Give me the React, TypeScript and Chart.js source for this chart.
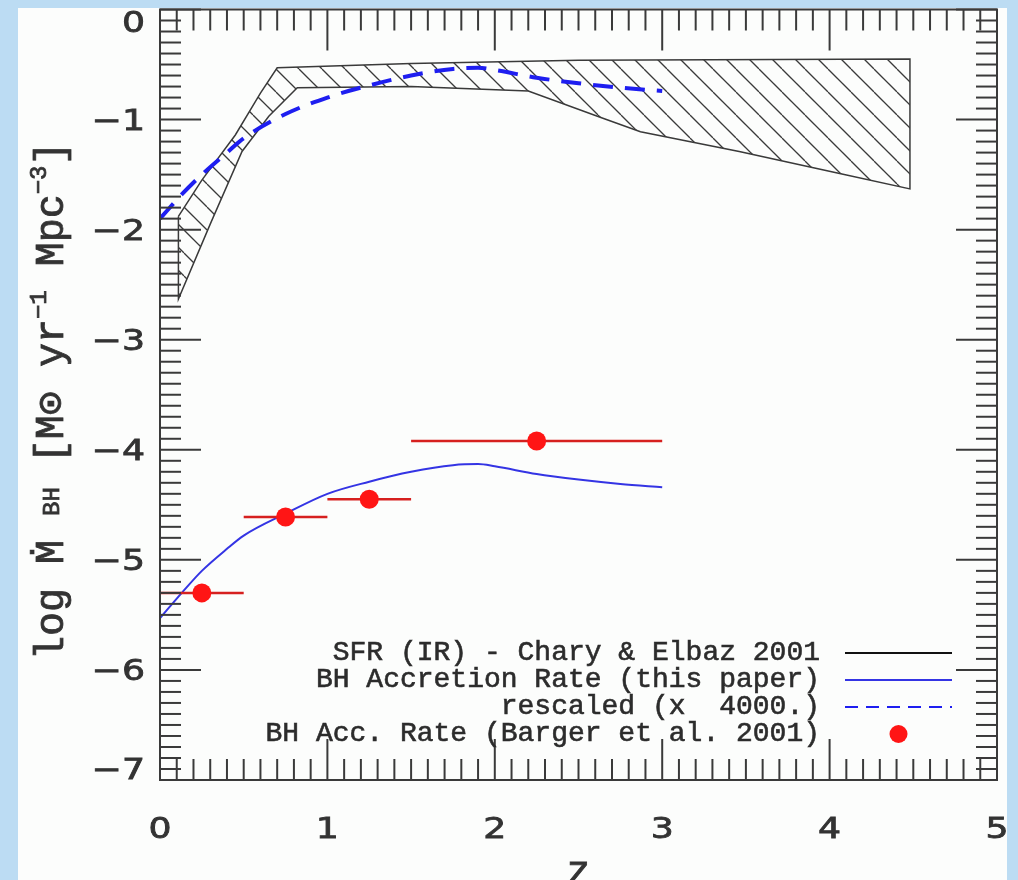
import { useEffect, useRef } from "react";
import { Chart, registerables } from "chart.js";

Chart.register(...registerables);

// Star-formation-rate band (Chary & Elbaz 2001): upper edge left→right, then lower edge right→left
const sfrUpperZ = [0.11, 0.25, 0.45, 0.6, 0.7, 1.5, 2.5, 4.48];
const sfrUpperLog = [-1.88, -1.55, -1.14, -0.76, -0.53, -0.49, -0.46, -0.45];
const sfrLowerZ = [4.48, 4.06, 3.46, 2.87, 2.65, 2.2, 1.5, 0.82, 0.65, 0.49, 0.3, 0.11];
const sfrLowerLog = [-1.63, -1.49, -1.29, -1.11, -0.99, -0.74, -0.7, -0.71, -0.97, -1.29, -1.95, -2.63];

// Model BH accretion rate and its copy rescaled by a factor 4000
const modelZ = [0, 0.13, 0.25, 0.4, 0.5, 0.75, 1.0, 1.25, 1.5, 1.75, 1.9, 2.0, 2.25, 2.5, 2.75, 3.0];
const bhRate = [-5.53, -5.3, -5.1, -4.9, -4.78, -4.58, -4.4, -4.29, -4.2, -4.14, -4.13, -4.15, -4.22, -4.27, -4.31, -4.34];
const bhRescaled = [-1.9, -1.68, -1.5, -1.3, -1.17, -0.95, -0.8, -0.69, -0.6, -0.54, -0.53, -0.55, -0.62, -0.67, -0.71, -0.74];

// Barger et al. 2001 measurements with redshift bins
const bargerZ = [0.25, 0.75, 1.25, 2.25];
const bargerLog = [-5.3, -4.61, -4.45, -3.92];
const bargerZLo = [0, 0.5, 1.0, 1.5];
const bargerZHi = [0.5, 1.0, 1.5, 3.0];

const legendLabels = [
  "SFR (IR) - Chary & Elbaz 2001",
  "BH Accretion Rate (this paper)",
  "rescaled (x  4000.)",
  "BH Acc. Rate (Barger et al. 2001)",
];
const xTitle = "z";

const INK = "#333333";
const BLUE_SOLID = "#3434e4";
const BLUE_DASH = "#1e1ef0";
const RED = "#ff1515";
const RED_BAR = "#d6201f";
const MONO = '"Liberation Mono", "DejaVu Sans Mono", monospace';
const SANS = '"DejaVu Sans", sans-serif';

function hatchPattern(ctx: CanvasRenderingContext2D): CanvasPattern | string {
  const s = 23;
  const c = document.createElement("canvas");
  c.width = s;
  c.height = s;
  const g = c.getContext("2d");
  if (!g) return "transparent";
  g.strokeStyle = "#3a3a3a";
  g.lineWidth = 1.3;
  for (const k of [-1, 0, 1]) {
    g.beginPath();
    g.moveTo(k * s, 0);
    g.lineTo(k * s + s, s);
    g.stroke();
  }
  return ctx.createPattern(c, "repeat") || "transparent";
}

// fill plus a thin outline, to give the heavier look of the plot lettering
function inkText(ctx: CanvasRenderingContext2D, t: string, x: number, y: number, w: number) {
  ctx.fillText(t, x, y);
  ctx.lineWidth = w;
  ctx.strokeText(t, x, y);
}

const decorPlugin = {
  id: "decor",
  afterDatasetsDraw(chart: any) {
    const { ctx, chartArea: a, scales } = chart;
    const xs = scales.x;
    const ys = scales.y;
    const MAJOR = 41;
    const MINOR = 21;
    ctx.save();
    ctx.strokeStyle = "#3a3a3a";
    ctx.lineWidth = 2;
    const seg = (x1: number, y1: number, x2: number, y2: number) => {
      ctx.beginPath();
      ctx.moveTo(x1, y1);
      ctx.lineTo(x2, y2);
      ctx.stroke();
    };
    // ten minor divisions per major tick, on all four sides, pointing inward
    const xt = xs.ticks.map((t: any) => t.value);
    for (let i = 0; i < xt.length; i++) {
      for (let m = 0; m < 10; m++) {
        if (i === xt.length - 1 && m > 0) break;
        const v = xt[i] + (m * (xt[1] - xt[0])) / 10;
        const px = xs.getPixelForValue(v);
        const len = m === 0 ? MAJOR : MINOR;
        seg(px, a.bottom, px, a.bottom - len);
        seg(px, a.top, px, a.top + len);
      }
    }
    const yt = ys.ticks.map((t: any) => t.value);
    for (let i = 0; i < yt.length; i++) {
      for (let m = 0; m < 10; m++) {
        if (i === yt.length - 1 && m > 0) break;
        const v = yt[i] + (m * (yt[1] - yt[0])) / 10;
        const py = ys.getPixelForValue(v);
        const len = m === 0 ? MAJOR : MINOR;
        seg(a.left, py, a.left + len, py);
        seg(a.right, py, a.right - len, py);
      }
    }
    ctx.strokeRect(a.left, a.top, a.right - a.left, a.bottom - a.top);

    // tick labels (wide digits)
    const fs = 29;
    const sx = 1.25;
    ctx.fillStyle = INK;
    ctx.strokeStyle = INK;
    ctx.font = `${fs}px ${SANS}`;
    ctx.textBaseline = "alphabetic";
    const digitH = 0.729 * fs;
    const drawScaled = (text: string, x: number, baseline: number, align: "left" | "center" | "right") => {
      const w = ctx.measureText(text).width * sx;
      let left = x;
      if (align === "center") left = x - w / 2;
      if (align === "right") left = x - w;
      ctx.save();
      ctx.translate(left, baseline);
      ctx.scale(sx, 1);
      ctx.textAlign = "left";
      inkText(ctx, text, 0, 0, 0.8);
      ctx.restore();
    };
    for (const t of xs.ticks) {
      const px = xs.getPixelForValue(t.value);
      drawScaled(String(t.value), px, a.bottom + 37 + digitH / 2 + 10, "center");
    }
    for (const t of ys.ticks) {
      let py = ys.getPixelForValue(t.value);
      py = Math.min(Math.max(py, a.top + digitH / 2 + 1), a.bottom - digitH / 2 - 1);
      const txt = t.value < 0 ? "\u2212" + Math.abs(t.value) : String(t.value);
      drawScaled(txt, a.left - 15, py + digitH / 2, "right");
    }

    // x-axis title
    ctx.font = `40px ${MONO}`;
    ctx.textAlign = "center";
    inkText(ctx, xTitle, (a.left + a.right) / 2, a.bottom + 104, 0.8);

    // y-axis title with subscript and superscripts
    const parts = [
      { t: "log \u1E40 ", s: 40, dy: 0 },
      { t: "BH", s: 24, dy: -4 },
      { t: " [M\u2299 yr", s: 40, dy: 0 },
      { t: "\u22121", s: 24, dy: -17 },
      { t: " Mpc", s: 40, dy: 0 },
      { t: "\u22123", s: 24, dy: -17 },
      { t: "]", s: 40, dy: 0 },
    ];
    let total = 0;
    for (const p of parts) {
      ctx.font = `${p.s}px ${MONO}`;
      total += ctx.measureText(p.t).width;
    }
    ctx.save();
    ctx.translate(a.left - 97, (a.top + a.bottom) / 2 + 6);
    ctx.rotate(-Math.PI / 2);
    ctx.textAlign = "left";
    let cx = -total / 2;
    for (const p of parts) {
      ctx.font = `${p.s}px ${MONO}`;
      inkText(ctx, p.t, cx, p.dy, 0.8);
      cx += ctx.measureText(p.t).width;
    }
    ctx.restore();

    // legend
    const textRight = a.right - 177;
    const lineL = a.right - 152;
    const lineR = a.right - 45;
    const base0 = a.bottom - 120;
    const step = 27;
    ctx.font = `28px ${MONO}`;
    ctx.textAlign = "right";
    ctx.fillStyle = "#2c2c2c";
    ctx.strokeStyle = "#2c2c2c";
    legendLabels.forEach((lab, i) => {
      inkText(ctx, lab, textRight, base0 + i * step, 0.6);
    });
    const sampleY = (i: number) => base0 + i * step - 7;
    ctx.lineWidth = 2;
    ctx.strokeStyle = "#111111";
    seg(lineL, sampleY(0), lineR, sampleY(0));
    ctx.strokeStyle = BLUE_SOLID;
    ctx.lineWidth = 2.2;
    seg(lineL, sampleY(1), lineR, sampleY(1));
    ctx.strokeStyle = BLUE_DASH;
    ctx.lineWidth = 2;
    ctx.setLineDash([13, 8]);
    seg(lineL, sampleY(2), lineR, sampleY(2));
    ctx.setLineDash([]);
    ctx.fillStyle = RED;
    ctx.beginPath();
    ctx.arc((lineL + lineR) / 2, sampleY(3), 9, 0, Math.PI * 2);
    ctx.fill();
    ctx.restore();
  },
};

export default function App() {
  const ref = useRef<HTMLCanvasElement | null>(null);

  useEffect(() => {
    const canvas = ref.current;
    if (!canvas) return;
    const ctx = canvas.getContext("2d");
    if (!ctx) return;

    const band = [
      ...sfrUpperZ.map((z, i) => ({ x: z, y: sfrUpperLog[i] })),
      ...sfrLowerZ.map((z, i) => ({ x: z, y: sfrLowerLog[i] })),
      { x: sfrUpperZ[0], y: sfrUpperLog[0] },
    ];
    const bars: { x: number; y: number | null }[] = [];
    bargerZ.forEach((_, i) => {
      bars.push({ x: bargerZLo[i], y: bargerLog[i] });
      bars.push({ x: bargerZHi[i], y: bargerLog[i] });
      bars.push({ x: bargerZHi[i], y: null });
    });

    const chart = new Chart(ctx, {
      type: "line",
      data: {
        datasets: [
          {
            label: legendLabels[3],
            data: bargerZ.map((z, i) => ({ x: z, y: bargerLog[i] })),
            showLine: false,
            pointRadius: 9.5,
            pointBackgroundColor: RED,
            pointBorderWidth: 0,
            order: 0,
          },
          {
            label: "bins",
            data: bars as any,
            borderColor: RED_BAR,
            borderWidth: 2.5,
            pointRadius: 0,
            spanGaps: false,
            order: 1,
          },
          {
            label: legendLabels[1],
            data: modelZ.map((z, i) => ({ x: z, y: bhRate[i] })),
            borderColor: BLUE_SOLID,
            borderWidth: 2,
            pointRadius: 0,
            cubicInterpolationMode: "monotone",
            order: 2,
          },
          {
            label: legendLabels[2],
            data: modelZ.map((z, i) => ({ x: z, y: bhRescaled[i] })),
            borderColor: BLUE_DASH,
            borderWidth: 4,
            borderDash: [20, 12],
            pointRadius: 0,
            cubicInterpolationMode: "monotone",
            order: 3,
          },
          {
            label: legendLabels[0],
            data: band,
            borderColor: "#3a3a3a",
            borderWidth: 1.5,
            backgroundColor: hatchPattern(ctx) as any,
            fill: "shape",
            pointRadius: 0,
            tension: 0,
            order: 4,
          },
        ],
      },
      options: {
        responsive: false,
        animation: false,
        devicePixelRatio: 1,
        layout: { padding: { left: 0, top: 8, right: 21, bottom: 0 } },
        plugins: {
          legend: { display: false },
          tooltip: { enabled: false },
        },
        scales: {
          x: {
            type: "linear",
            min: 0,
            max: 5,
            ticks: { display: false, stepSize: 1 },
            grid: { display: false, drawTicks: false },
            border: { display: false },
            afterFit: (s: any) => {
              s.height = 100;
            },
          },
          y: {
            type: "linear",
            min: -7,
            max: 0,
            ticks: { display: false, stepSize: 1 },
            grid: { display: false, drawTicks: false },
            border: { display: false },
            afterFit: (s: any) => {
              s.width = 160;
            },
          },
        },
      },
      plugins: [decorPlugin],
    });
    return () => chart.destroy();
  }, []);

  return (
    <div style={{ position: "fixed", inset: 0, background: "#bcdcf3", overflow: "hidden" }}>
      <div
        style={{
          position: "absolute",
          left: 18,
          top: 8,
          width: 989,
          height: 872,
          background: "#fcfdfc",
        }}
      />
      <canvas
        ref={ref}
        width={1018}
        height={880}
        style={{ position: "absolute", left: 0, top: 0, width: 1018, height: 880 }}
      />
    </div>
  );
}
